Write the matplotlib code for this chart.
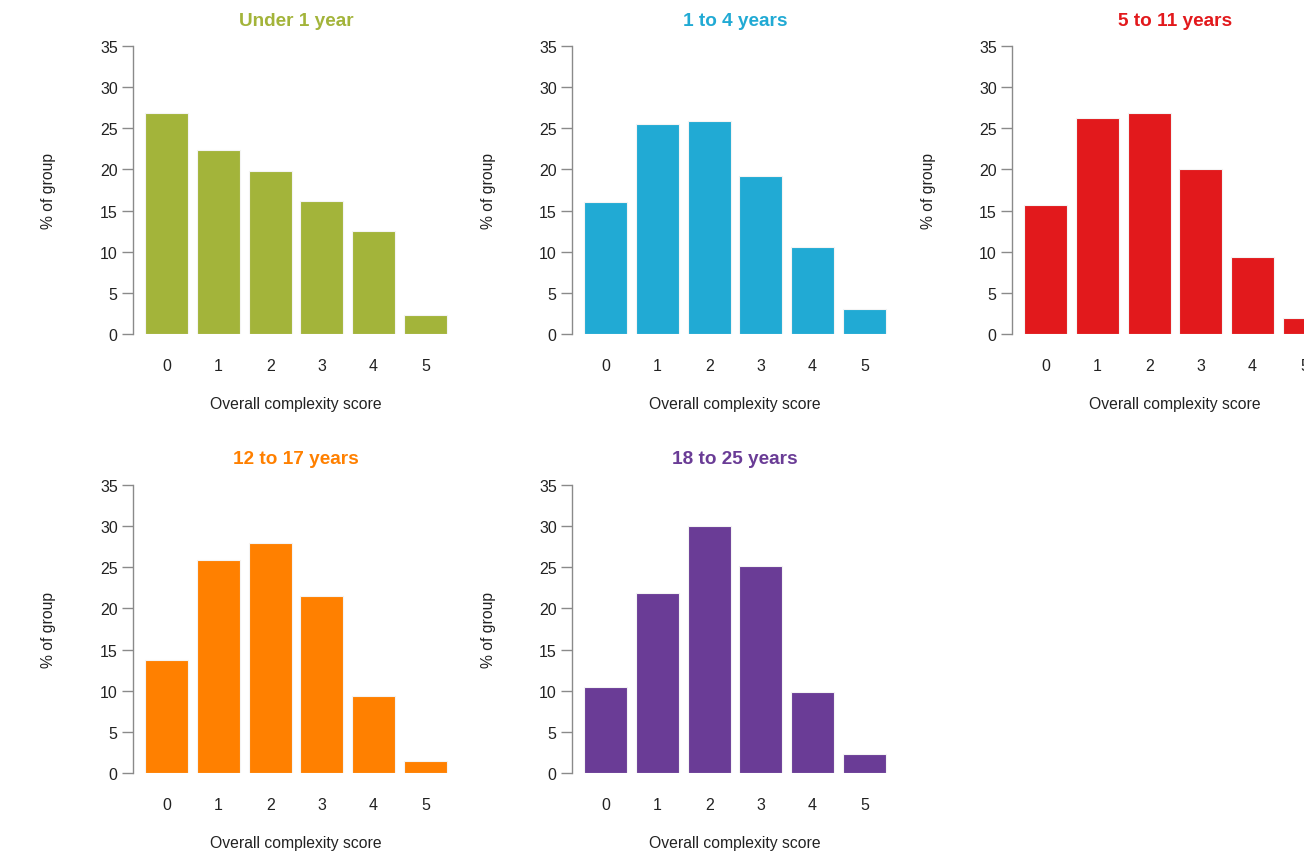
import matplotlib
matplotlib.use("Agg")
import matplotlib.pyplot as plt
import numpy as np

plt.rcParams["font.family"] = ["Liberation Sans", "DejaVu Sans"]

scores = [0, 1, 2, 3, 4, 5]
titles = ["Under 1 year", "1 to 4 years", "5 to 11 years", "12 to 17 years", "18 to 25 years"]
colors = ["#A3B43A", "#21AAD4", "#E2191C", "#FF8000", "#6A3C96"]

under_1 = [26.9, 22.4, 19.8, 16.2, 12.5, 2.3]
age_1_4 = [16.0, 25.5, 25.9, 19.2, 10.6, 3.0]
age_5_11 = [15.7, 26.3, 26.9, 20.0, 9.3, 1.9]
age_12_17 = [13.7, 25.9, 27.9, 21.5, 9.4, 1.5]
age_18_25 = [10.5, 21.9, 30.0, 25.2, 9.9, 2.3]
groups = [under_1, age_1_4, age_5_11, age_12_17, age_18_25]

yticks = [0, 5, 10, 15, 20, 25, 30, 35]

W, H = 1304, 854
fig = plt.figure(figsize=(W / 100, H / 100), dpi=100)

# pixel positions of each panel's y axis (left) and zero line (bottom)
panel_px = [(133, 335), (572, 335), (1012, 335), (133, 774), (572, 774)]
ax_w, ax_h = 326, 288

# R style barplot geometry: width 1, space 0.2
centers = 0.7 + 1.2 * np.arange(len(scores))

for (x0, y0), title, color, values in zip(panel_px, titles, colors, groups):
    ax = fig.add_axes([x0 / W, 1 - y0 / H, ax_w / W, ax_h / H])
    ax.bar(centers, values, width=1.0, color=color, edgecolor="#F4F4F4", linewidth=0.8)
    ax.set_xlim(-0.08, 7.48)
    ax.set_ylim(0, 35)

    for side in ["top", "right", "bottom"]:
        ax.spines[side].set_visible(False)
    ax.spines["left"].set_color("#8A8A8A")
    ax.spines["left"].set_linewidth(1.0)
    ax.spines["left"].set_bounds(0, 35)

    ax.set_yticks(yticks)
    ax.tick_params(axis="y", length=8, width=1.0, color="#8A8A8A",
                   labelsize=11.5, labelcolor="#222222", pad=3)
    ax.set_xticks(centers)
    ax.set_xticklabels([str(s) for s in scores])
    ax.tick_params(axis="x", length=0, labelsize=11.5, labelcolor="#222222", pad=17)

    ax.set_xlabel("Overall complexity score", fontsize=11.3, color="#222222", labelpad=17)
    ax.text(-84 / ax_w, 0.5, "% of group", transform=ax.transAxes, rotation=90,
            ha="center", va="center", fontsize=11.3, color="#222222")
    ax.text(0.5, 1 + 26 / ax_h, title, transform=ax.transAxes, ha="center", va="center",
            fontsize=13.7, fontweight="bold", color=color)

fig.savefig("out.png", dpi=100)
